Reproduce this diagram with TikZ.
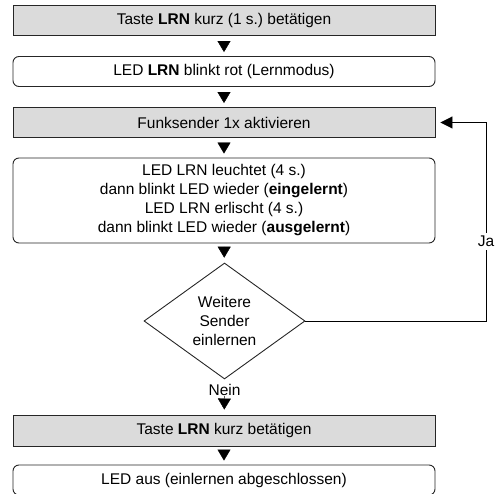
\documentclass[tikz,border=0pt]{standalone}
\usepackage{fontspec}
\setmainfont{Liberation Sans}
\usetikzlibrary{shapes.geometric,arrows.meta}

\begin{document}
\frenchspacing
\begin{tikzpicture}[x=1pt,y=1pt,
  font=\fontsize{15.5}{19}\selectfont,
  greybox/.style={draw=black!85, fill=black!14, line width=0.9pt, minimum width=422pt, minimum height=30pt, inner sep=0pt},
  roundbox/.style={draw=black!85, line width=0.9pt, rounded corners=6pt, minimum width=422pt, minimum height=30pt, inner sep=0pt, align=center},
  tipdown/.style={-{Triangle[width=13pt,length=11pt]}, shorten <=6pt, shorten >=4pt}]
\useasboundingbox (0,0) rectangle (498,493);
\node [greybox] (b1) at (224,473) {Taste \textbf{LRN} kurz (1 s.) betätigen};
\node [roundbox] (b2) at (224,421.5) {LED \textbf{LRN} blinkt rot (Lernmodus)};
\node [greybox] (b3) at (224,370.5) {Funksender 1x aktivieren};
\node [roundbox, minimum height=85pt] (b4) at (224,292.5) {LED LRN leuchtet (4 s.)\\dann blinkt LED wieder (\textbf{eingelernt})\\LED LRN erlischt (4 s.)\\dann blinkt LED wieder (\textbf{ausgelernt})};
\node [diamond, draw=black!85, line width=0.9pt, minimum width=161pt, minimum height=116pt, inner sep=0pt, align=center] (dia) at (224.5,172) {Weitere\\Sender\\einlernen};
\node (nein) at (224.5,103) {Nein};
\node [greybox, minimum height=31pt] (b5) at (224,62.5) {Taste \textbf{LRN} kurz betätigen};
\node [roundbox] (b6) at (224,13) {LED aus (einlernen abgeschlossen)};
\coordinate (back) at (486,370.5);
\draw [tipdown] (b1) -- (b2);
\draw [tipdown] (b2) -- (b3);
\draw [tipdown] (b3) -- (b4);
\draw [tipdown, shorten <=5pt, shorten >=5pt] (b4) -- (dia);
\draw [tipdown, shorten <=3pt, shorten >=5pt] (nein) -- (b5);
\draw [tipdown, shorten <=4pt, shorten >=4pt] (b5) -- (b6);
\draw [line width=0.9pt, -{Triangle[width=12pt,length=12pt]}, shorten >=5pt] (dia.east) -| node [pos=0.7, fill=white, inner xsep=1pt] {Ja} (back) -- (b3.east);
\end{tikzpicture}
\end{document}
